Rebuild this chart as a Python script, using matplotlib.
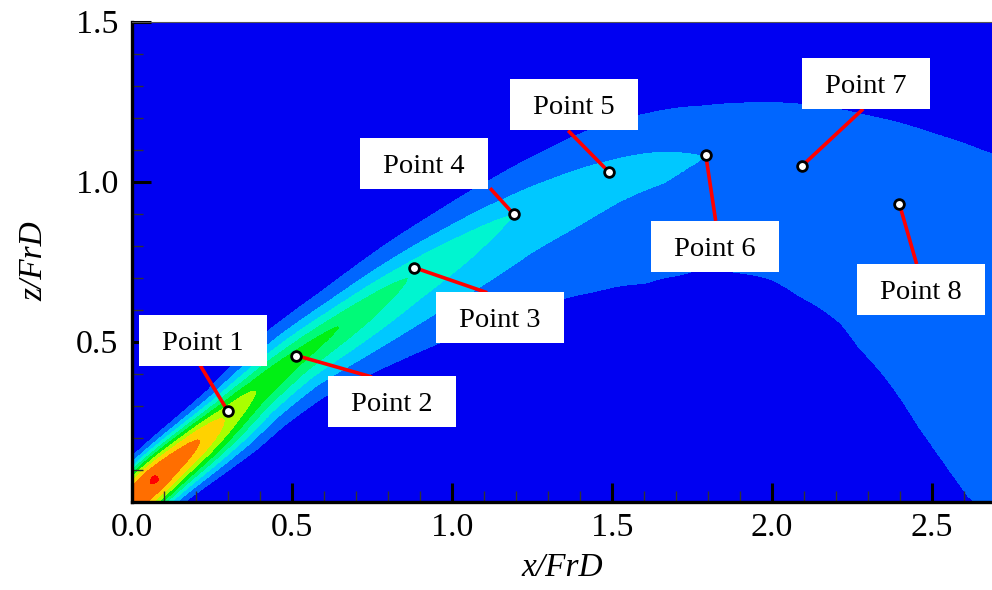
import numpy as np
import matplotlib
matplotlib.use("Agg")
import matplotlib.pyplot as plt
from matplotlib.patches import Rectangle
from matplotlib.ticker import MultipleLocator, FormatStrFormatter

plt.rcParams['font.family'] = ['Liberation Serif', 'DejaVu Serif']

# plume centreline (x/FrD, z/FrD), peak level and outer (0.1) half widths
cx = [-0.15, 0.00, 0.07, 0.21, 0.30, 0.385, 0.51, 0.65, 0.86, 1.19, 1.49, 1.65, 1.79, 2.09, 2.40, 2.70, 3.00]
cz = [-0.13, 0.00, 0.075, 0.19, 0.27, 0.345, 0.45, 0.55, 0.70, 0.90, 1.03, 1.065, 1.084, 1.05, 0.93, 0.74, 0.50]
peak = [0.80, 0.88, 0.905, 0.80, 0.68, 0.60, 0.55, 0.50, 0.40, 0.30, 0.255, 0.235, 0.20, 0.18, 0.165, 0.15, 0.14]
w_up = [0.09, 0.095, 0.10, 0.10, 0.10, 0.11, 0.12, 0.12, 0.125, 0.13, 0.15, 0.155, 0.16, 0.20, 0.25, 0.33, 0.38]
w_lo = [0.10, 0.11, 0.115, 0.13, 0.14, 0.14, 0.15, 0.18, 0.23, 0.30, 0.36, 0.36, 0.35, 0.36, 0.41, 0.51, 0.62]
p_exp = [2.8, 2.8, 2.6, 2.2, 2.0, 1.8, 1.6, 1.5, 1.4, 1.2, 1.0, 1.0, 1.0, 1.0, 1.0, 1.0, 1.0]

levels = [0.0, 0.1, 0.2, 0.3, 0.4, 0.5, 0.6, 0.7, 0.8, 0.9, 1.0]
colors = ['#0000F2', '#0066FF', '#00C8FF', '#00F5D0', '#00FA78',
          '#00F014', '#AAFF00', '#FFD200', '#FF6E00', '#FF0000']

# monitoring points and their labels
pt_names = ['Point 1', 'Point 2', 'Point 3', 'Point 4', 'Point 5', 'Point 6', 'Point 7', 'Point 8']
pt_x = [0.299, 0.514, 0.882, 1.193, 1.490, 1.793, 2.093, 2.398]
pt_z = [0.283, 0.456, 0.731, 0.8975, 1.030, 1.083, 1.048, 0.930]
box_x = [0.222, 0.8125, 1.15, 0.9125, 1.381, 1.822, 2.294, 2.466]
box_z = [0.503, 0.3125, 0.575, 1.056, 1.241, 0.797, 1.306, 0.6625]
lead_x = [0.2125, 0.75, 1.110, 1.119, 1.363, 1.824, 2.285, 2.452]
lead_z = [0.4266, 0.389, 0.6525, 0.979, 1.159, 0.877, 1.227, 0.742]

# build the field around the centreline
xg = np.linspace(0, 2.6875, 540)
zg = np.linspace(0, 1.5, 300)
X, Z = np.meshgrid(xg, zg)

cx_a, cz_a = np.array(cx), np.array(cz)
s_nodes = np.concatenate([[0], np.cumsum(np.hypot(np.diff(cx_a), np.diff(cz_a)))])
s_f = np.linspace(0, s_nodes[-1], 900)
xf = np.interp(s_f, s_nodes, cx_a)
zf = np.interp(s_f, s_nodes, cz_a)

# round off the corners of the polyline
k = 30
kern = np.ones(2 * k + 1) / (2 * k + 1)
xf = np.convolve(np.pad(xf, k, mode='reflect', reflect_type='odd'), kern, 'valid')
zf = np.convolve(np.pad(zf, k, mode='reflect', reflect_type='odd'), kern, 'valid')
tx = np.gradient(xf)
tz = np.gradient(zf)

best = np.full(X.shape, np.inf)
idx = np.zeros(X.shape, dtype=int)
for i in range(len(s_f)):
    d2 = (X - xf[i])**2 + (Z - zf[i])**2
    m = d2 < best
    best[m] = d2[m]
    idx[m] = i

dist = np.sqrt(best)
upper = (tx[idx] * (Z - zf[idx]) - tz[idx] * (X - xf[idx])) > 0
s_at = s_f[idx]
c0 = np.interp(s_at, s_nodes, peak)
w = np.where(upper, np.interp(s_at, s_nodes, w_up), np.interp(s_at, s_nodes, w_lo))
p = np.interp(s_at, s_nodes, p_exp)
sigma = w / np.log(c0 / 0.1) ** (1.0 / p)
C = c0 * np.exp(-(dist / sigma) ** p)

fig = plt.figure(figsize=(9.92, 5.90), dpi=100)
ax = fig.add_axes([132 / 992, 88.5 / 590, 860 / 992, 480 / 590])
ax.contourf(X, Z, C, levels=levels, colors=colors)

for i in range(len(pt_names)):
    ax.plot([pt_x[i], lead_x[i]], [pt_z[i], lead_z[i]], color='#FF0000', lw=2.6,
            solid_capstyle='butt', zorder=3)
    ax.add_patch(Rectangle((box_x[i] - 0.2, box_z[i] - 0.0797), 0.4, 0.1594,
                           facecolor='white', edgecolor='none', zorder=4))
    ax.annotate(pt_names[i], (box_x[i], box_z[i]), xytext=(0, -6.8),
                textcoords='offset points', ha='center', va='baseline',
                fontsize=20.5, zorder=5)
ax.plot(pt_x, pt_z, 'o', ms=7, mfc='white', mec='black', mew=2, zorder=6)

ax.set_xlim(0, 2.6875)
ax.set_ylim(0, 1.5)
ax.set_xticks([0, 0.5, 1.0, 1.5, 2.0, 2.5])
ax.set_yticks([0.5, 1.0, 1.5])
ax.xaxis.set_minor_locator(MultipleLocator(0.1))
ax.yaxis.set_minor_locator(MultipleLocator(0.1))
ax.xaxis.set_major_formatter(FormatStrFormatter('%.1f'))
ax.yaxis.set_major_formatter(FormatStrFormatter('%.1f'))
ax.tick_params(which='major', direction='in', length=14, width=2.2, labelsize=24.5)
ax.tick_params(axis='x', which='major', pad=8)
ax.tick_params(axis='y', which='major', pad=10)
ax.tick_params(which='minor', direction='in', length=8, width=1.0, color='#333333')
ax.tick_params(top=False, right=False, which='both')

for side in ['left', 'bottom']:
    ax.spines[side].set_linewidth(2.4)
ax.spines['top'].set_linewidth(0.8)
ax.spines['top'].set_color('#555555')
ax.spines['right'].set_visible(False)

ax.set_xlabel('x/FrD', fontsize=24, fontstyle='italic', labelpad=7)
ax.set_ylabel('z/FrD', fontsize=24, fontstyle='italic', labelpad=19)

fig.savefig('out.png', dpi=100)
